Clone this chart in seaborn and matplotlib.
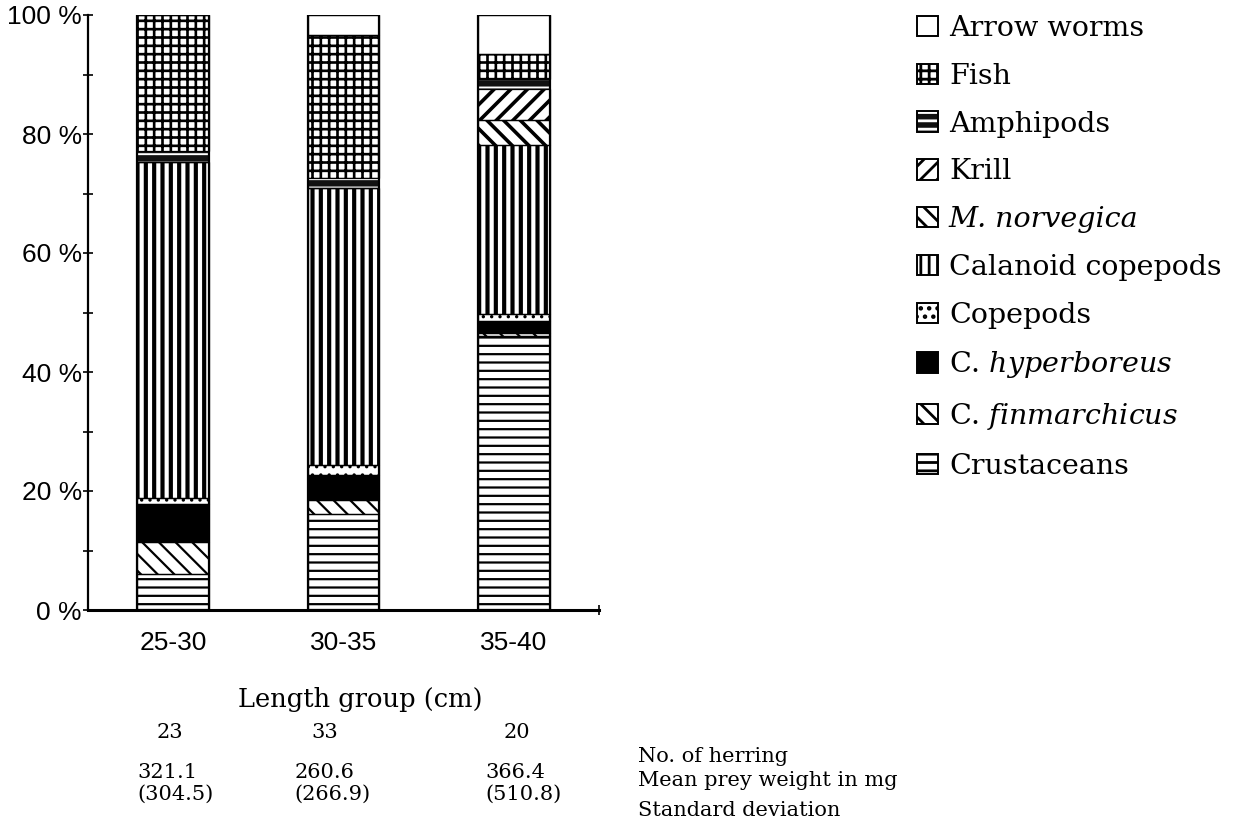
import matplotlib
matplotlib.use("Agg")
import matplotlib.pyplot as plt
import seaborn as sns
import numpy as np
from matplotlib.patches import Patch
from matplotlib.ticker import FixedLocator, FuncFormatter
from matplotlib.legend_handler import HandlerTuple
import matplotlib.transforms as mtransforms

# ---------------- data ----------------
length_groups = ["25-30", "30-35", "35-40"]
crustaceans = [6.1, 16.2, 46.0]
c_finmarchicus = [5.3, 2.3, 0.5]
c_hyperboreus = [6.4, 4.2, 2.0]
copepods = [1.0, 1.7, 1.2]
calanoid_copepods = [56.5, 46.5, 28.5]
m_norvegica = [0.0, 0.0, 4.2]
krill = [0.0, 0.0, 5.1]
amphipods = [1.9, 1.7, 1.7]
fish = [22.8, 24.1, 4.2]
arrow_worms = [0.0, 3.3, 6.6]

n_herring = ["23", "33", "20"]
mean_prey_weight = ["321.1", "260.6", "366.4"]
std_dev = ["(304.5)", "(266.9)", "(510.8)"]
row_titles = ["No. of herring", "Mean prey weight in mg", "Standard deviation"]

# ---------------- styling ----------------
sns.set_theme(style="white")
plt.rcParams["font.family"] = ["DejaVu Serif"]
plt.rcParams["mathtext.fontset"] = "dejavuserif"
plt.rcParams["hatch.linewidth"] = 2.0

series = [
    # label, values, face, hatchcolor, hatch, hatch lw
    ("Crustaceans", crustaceans, "white", "black", "--", 1.6),
    ("C. $\\mathit{finmarchicus}$", c_finmarchicus, "white", "black", "\\\\", 1.6),
    ("C. $\\mathit{hyperboreus}$", c_hyperboreus, "black", "black", None, 1.0),
    ("Copepods", copepods, "white", "black", "..", 1.2),
    ("Calanoid copepods", calanoid_copepods, "white", "black", "||", 3.0),
    ("M. norvegica", m_norvegica, "white", "black", "\\\\", 2.6),
    ("Krill", krill, "white", "black", "//", 2.6),
    ("Amphipods", amphipods, "#111111", "white", "--", 1.4),
    ("Fish", fish, "white", "black", "++", 1.9),
    ("Arrow worms", arrow_worms, "white", "black", None, 1.0),
]

W, H = 1238, 823
fig = plt.figure(figsize=(W / 100, H / 100), dpi=100)
ax = fig.add_axes([88 / W, 1 - 610 / H, (599 - 88) / W, (610 - 15) / H])

bar_w = 0.42
bottom = np.zeros(len(length_groups))
handles = []
labels = []
for label, vals, face, hcol, hatch, hlw in series:
    vals = np.asarray(vals, dtype=float)
    n_before = len(ax.patches)
    with plt.rc_context({"hatch.linewidth": hlw}):
        sns.barplot(x=length_groups, y=vals, order=length_groups, bottom=bottom,
                    color=face, edgecolor=hcol, hatch=hatch, linewidth=0,
                    width=bar_w, saturation=1, ax=ax)
    for p in ax.patches[n_before:]:
        p.set_facecolor(face)
        p.set_edgecolor(hcol)
        p.set_linewidth(0)
        if hatch:
            p.set_hatch(hatch)
            if hasattr(p, "set_hatch_linewidth"):
                p.set_hatch_linewidth(hlw)
    bottom = bottom + vals
    hp = Patch(facecolor=face, edgecolor=hcol, hatch=hatch, linewidth=0)
    if hasattr(hp, "set_hatch_linewidth"):
        hp.set_hatch_linewidth(min(hlw, 1.6))
    op = Patch(facecolor="none", edgecolor="black", linewidth=1.4)
    handles.append((hp, op))
    labels.append(label)

# thin outlines for each segment (separator lines)
bottom2 = np.zeros(len(length_groups))
for label, vals, face, hcol, hatch, hlw in series:
    vals = np.asarray(vals, dtype=float)
    n_before = len(ax.patches)
    sns.barplot(x=length_groups, y=vals, order=length_groups, bottom=bottom2,
                color="black", width=bar_w, saturation=1, ax=ax, linewidth=0.9,
                edgecolor="black")
    for p in ax.patches[n_before:]:
        p.set_facecolor("none")
        p.set_edgecolor("black")
        p.set_linewidth(0.9 if face != "#111111" else 0)
    bottom2 = bottom2 + vals

# overall bar outline
n_before = len(ax.patches)
sns.barplot(x=length_groups, y=bottom, order=length_groups, color="black",
            width=bar_w, saturation=1, ax=ax, linewidth=1.6, edgecolor="black")
for p in ax.patches[n_before:]:
    p.set_facecolor("none")
    p.set_edgecolor("black")
    p.set_linewidth(1.6)

# ---------------- axes ----------------
ax.set_xlim(-0.5, 2.5)
ax.set_ylim(0, 100)
for s in ["top", "right"]:
    ax.spines[s].set_visible(False)
ax.spines["left"].set_linewidth(1.6)
ax.spines["bottom"].set_linewidth(2.2)
ax.spines["left"].set_color("black")
ax.spines["bottom"].set_color("black")
ax.set_xlabel("")
ax.set_ylabel("")

ax.yaxis.set_major_locator(FixedLocator([0, 20, 40, 60, 80, 100]))
ax.yaxis.set_minor_locator(FixedLocator([10, 30, 50, 70, 90]))
ax.yaxis.set_major_formatter(FuncFormatter(lambda v, pos: f"{v:.0f} %"))
ax.tick_params(axis="y", which="both", direction="inout", length=7, width=1.2,
               color="black", left=True, pad=1)
for t in ax.get_yticklabels():
    t.set_fontfamily("Liberation Sans")
    t.set_fontsize(19)
    t.set_color("black")

ax.xaxis.set_major_locator(FixedLocator([0, 1, 2]))
ax.set_xticklabels(length_groups)
ax.xaxis.set_minor_locator(FixedLocator([2.5]))
ax.tick_params(axis="x", which="major", length=0, pad=15)
ax.tick_params(axis="x", which="minor", direction="inout", length=7, width=1.2,
               color="black", bottom=True)
for t in ax.get_xticklabels():
    t.set_fontfamily("Liberation Sans")
    t.set_fontsize(19)
    t.set_color("black")

# ---------------- legend ----------------
leg = ax.legend(handles[::-1], labels[::-1], loc="upper left",
                bbox_to_anchor=(917 / W, 1 - 15 / H), bbox_transform=fig.transFigure,
                frameon=False, prop={"family": "DejaVu Serif", "size": 20.5},
                handlelength=0.72, handleheight=0.72, handletextpad=0.4,
                labelspacing=0.73, borderpad=0, borderaxespad=0,
                handler_map={tuple: HandlerTuple(ndivide=1)})
for t in leg.get_texts():
    t.set_color("black")
    if t.get_text() == "M. norvegica":
        t.set_fontstyle("italic")

# ---------------- texts below ----------------
fig.text(360 / W, 1 - 700 / H, "Length group (cm)", ha="center", va="center",
         fontsize=18.5, family="DejaVu Serif", color="black")

trans = mtransforms.blended_transform_factory(ax.transData, fig.transFigure)
n_dx = [-0.02, -0.11, 0.02]
m_dx = [-0.21, -0.29, -0.17]
for i in range(len(length_groups)):
    ax.text(i + n_dx[i], 1 - 732 / H, n_herring[i], transform=trans, ha="center",
            va="center", fontsize=15, family="DejaVu Serif", clip_on=False, color="black")
    ax.text(i + m_dx[i], 1 - 772 / H, mean_prey_weight[i], transform=trans,
            ha="left", va="center", fontsize=15, family="DejaVu Serif", clip_on=False,
            color="black")
    ax.text(i + m_dx[i], 1 - 794 / H, std_dev[i], transform=trans,
            ha="left", va="center", fontsize=15, family="DejaVu Serif", clip_on=False,
            color="black")

for ypx, txt in zip([757, 781, 810], row_titles):
    fig.text(638 / W, 1 - ypx / H, txt, ha="left", va="center", fontsize=15,
             family="DejaVu Serif", color="black")

fig.savefig("out.png", dpi=100, facecolor="white")
